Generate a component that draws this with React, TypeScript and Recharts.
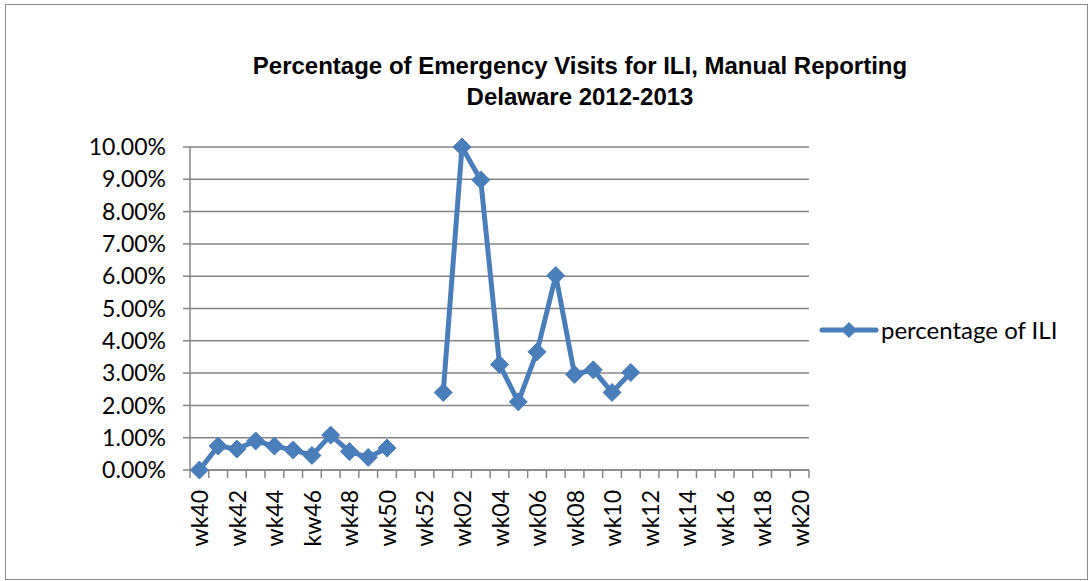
import { LineChart, Line, XAxis, YAxis, CartesianGrid } from "recharts";

const categories = [
  "wk40", "wk41", "wk42", "wk43", "wk44", "wk45", "kw46", "wk47", "wk48", "wk49", "wk50", "wk51", "wk52",
  "wk01", "wk02", "wk03", "wk04", "wk05", "wk06", "wk07", "wk08", "wk09", "wk10",
  "wk11", "wk12", "wk13", "wk14", "wk15", "wk16", "wk17", "wk18", "wk19", "wk20",
];

// percent values, null = no report
const iliPercent: (number | null)[] = [
  0, 0.74, 0.65, 0.9, 0.74, 0.62, 0.45, 1.08, 0.57, 0.39, 0.68, null, null,
  2.4, 10.0, 8.98, 3.27, 2.11, 3.66, 6.02, 2.96, 3.1, 2.4,
  3.02, null, null, null, null, null, null, null, null, null,
];

const yTicks = [0, 1, 2, 3, 4, 5, 6, 7, 8, 9, 10];

const BLUE = "#4A7EBB";
const GRID = "#868686";
const FONT = "Lato, 'Open Sans', sans-serif";

// each week sits in the middle of its slot so tick marks can go on slot edges
const chartData = categories.map((name, i) => ({
  pos: i + 0.5,
  name,
  value: iliPercent[i],
}));

const xTicks = Array.from({ length: categories.length * 2 + 1 }, (_, k) => k / 2);

const XTick = (props: any) => {
  const { x, y, payload } = props;
  const v = payload.value;
  if (Number.isInteger(v)) {
    return <line x1={x} x2={x} y1={y} y2={y + 8} stroke={GRID} strokeWidth={1.5} />;
  }
  const i = Math.floor(v);
  if (i % 2 !== 0) return null;
  return (
    <text
      transform={`translate(${x},${y + 20}) rotate(-90)`}
      textAnchor="end"
      dominantBaseline="central"
      fontFamily={FONT}
      fontSize={23}
      fill="#000"
    >
      {categories[i]}
    </text>
  );
};

const Diamond = (props: any) => {
  const { cx, cy, value } = props;
  if (value == null || cx == null || cy == null) return <g />;
  const r = 9;
  return (
    <polygon
      points={`${cx},${cy - r} ${cx + r},${cy} ${cx},${cy + r} ${cx - r},${cy}`}
      fill={BLUE}
      stroke={BLUE}
    />
  );
};

export default function App() {
  return (
    <div style={{ position: "absolute", left: 0, top: 0, width: 1090, height: 581, background: "#fff" }}>
      <div
        style={{
          position: "absolute",
          left: 5,
          top: 4,
          width: 1083,
          height: 576,
          border: "1.5px solid #8a8a8a",
          boxSizing: "border-box",
        }}
      />
      <div
        style={{
          position: "absolute",
          left: 180,
          top: 50,
          width: 800,
          textAlign: "center",
          fontFamily: "'Liberation Sans', Arial, sans-serif",
          fontWeight: "bold",
          fontSize: 24,
          lineHeight: "31px",
          color: "#000",
        }}
      >
        <div>Percentage of Emergency Visits for ILI, Manual Reporting</div>
        <div>Delaware 2012-2013</div>
      </div>
      <LineChart
        width={1090}
        height={581}
        data={chartData}
        margin={{ top: 147, right: 281, bottom: 0, left: 0 }}
        style={{ position: "absolute", left: 0, top: 0 }}
      >
        <CartesianGrid vertical={false} stroke={GRID} strokeWidth={1.5} />
        <XAxis
          dataKey="pos"
          type="number"
          domain={[0, categories.length]}
          ticks={xTicks}
          interval={0}
          tick={<XTick />}
          tickLine={false}
          tickSize={0}
          tickMargin={0}
          height={111}
          axisLine={{ stroke: GRID, strokeWidth: 1.5 }}
        />
        <YAxis
          type="number"
          domain={[0, 10]}
          ticks={yTicks}
          interval={0}
          width={190}
          tickSize={7}
          tickMargin={17}
          tickFormatter={(v: number) => `${v.toFixed(2)}%`}
          tick={{ fontFamily: FONT, fontSize: 23, fill: "#000" }}
          tickLine={{ stroke: GRID, strokeWidth: 1.5 }}
          axisLine={{ stroke: GRID, strokeWidth: 1.5 }}
        />
        <Line
          type="linear"
          dataKey="value"
          name="percentage of ILI"
          stroke={BLUE}
          strokeWidth={5}
          dot={<Diamond />}
          activeDot={false}
          connectNulls={false}
          isAnimationActive={false}
        />
      </LineChart>
      <div
        style={{
          position: "absolute",
          left: 819,
          top: 315,
          display: "flex",
          alignItems: "center",
          fontFamily: FONT,
          fontSize: 24,
          color: "#000",
          whiteSpace: "nowrap",
        }}
      >
        <svg width={60} height={20} style={{ marginRight: 2 }}>
          <line x1={3} x2={57} y1={10} y2={10} stroke={BLUE} strokeWidth={5} strokeLinecap="round" />
          <polygon points="30,2 38,10 30,18 22,10" fill={BLUE} />
        </svg>
        <span>percentage of ILI</span>
      </div>
    </div>
  );
}
